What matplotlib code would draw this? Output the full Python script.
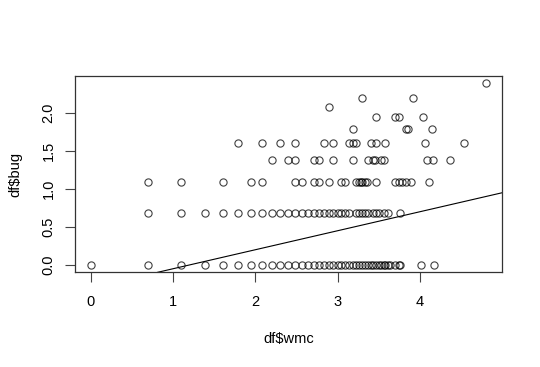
import matplotlib

matplotlib.use("Agg")
import matplotlib.pyplot as plt

plt.rcParams["font.family"] = ["Liberation Sans", "DejaVu Sans"]

# df$wmc values for each df$bug level (both already on log scale)
bug_levels = [0.00, 0.69, 1.10, 1.39, 1.61, 1.79, 1.95, 2.08, 2.20, 2.40]
wmc_by_level = [
    # bug = 0.00
    [0.00, 0.69, 1.10, 1.39, 1.61, 1.79, 1.95, 2.08, 2.20, 2.30, 2.40, 2.48,
     2.56, 2.64, 2.71, 2.77, 2.83, 2.89, 2.94, 3.00, 3.04, 3.09, 3.14, 3.18,
     3.22, 3.26, 3.30, 3.33, 3.37, 3.40, 3.43, 3.47, 3.50, 3.53, 3.56, 3.58,
     3.61, 3.64, 3.69, 3.74, 3.76, 4.01, 4.17],
    # bug = 0.69
    [0.69, 1.10, 1.39, 1.61, 1.79, 1.95, 2.08, 2.20, 2.30, 2.40, 2.48, 2.56,
     2.64, 2.71, 2.77, 2.83, 2.89, 2.94, 3.00, 3.04, 3.09, 3.14, 3.22, 3.26,
     3.30, 3.33, 3.37, 3.43, 3.47, 3.50, 3.56, 3.61, 3.76],
    # bug = 1.10
    [0.69, 1.10, 1.61, 1.95, 2.08, 2.48, 2.56, 2.71, 2.77, 2.89, 3.04, 3.09,
     3.22, 3.26, 3.28, 3.30, 3.33, 3.36, 3.47, 3.69, 3.74, 3.78, 3.83, 3.89,
     4.11],
    # bug = 1.39
    [2.20, 2.40, 2.48, 2.71, 2.77, 2.94, 3.18, 3.37, 3.43, 3.45, 3.53, 3.56,
     4.09, 4.16, 4.36],
    # bug = 1.61
    [1.79, 2.08, 2.30, 2.48, 2.83, 2.94, 3.14, 3.18, 3.22, 3.40, 3.47, 3.58,
     4.06, 4.53],
    # bug = 1.79
    [3.18, 3.83, 3.85, 4.14],
    # bug = 1.95
    [3.46, 3.69, 3.74, 4.04],
    # bug = 2.08
    [2.89],
    # bug = 2.20
    [3.30, 3.91],
    # bug = 2.40
    [4.80],
]

# abline from the fitted model
fit_intercept = -0.299
fit_slope = 0.2504

x_ticks = [0, 1, 2, 3, 4]
y_ticks = [0.0, 0.5, 1.0, 1.5, 2.0]

wmc = []
bug = []
for level, xs in zip(bug_levels, wmc_by_level):
    wmc += xs
    bug += [level] * len(xs)

fig = plt.figure(figsize=(5.4, 3.67), dpi=100)
ax = fig.add_axes([0.139, 0.258, 0.79, 0.536])

ax.plot(wmc, bug, linestyle="none", marker="o", markersize=5.2,
        markerfacecolor="none", markeredgecolor="black", markeredgewidth=0.8,
        alpha=0.75)

# R style 4% padding
xmin, xmax = min(wmc), max(wmc)
ymin, ymax = min(bug), max(bug)
xpad = (xmax - xmin) * 0.04
ypad = (ymax - ymin) * 0.04
ax.set_xlim(xmin - xpad, xmax + xpad)
ax.set_ylim(ymin - ypad, ymax + ypad)

ax.axline((0, fit_intercept), slope=fit_slope, color="black", linewidth=0.8)

ax.set_xticks(x_ticks)
ax.set_xticklabels([str(t) for t in x_ticks])
ax.set_yticks(y_ticks)
ax.set_yticklabels([f"{t:.1f}" for t in y_ticks], rotation=90, va="center")
ax.tick_params(axis="x", length=7, width=0.8, pad=9, labelsize=10.5, color="#444444")
ax.tick_params(axis="y", length=7, width=0.8, pad=7, labelsize=10.5, color="#444444")

for s in ax.spines.values():
    s.set_linewidth(0.9)
    s.set_color("#333333")

ax.set_xlabel("df$wmc", fontsize=10.5, labelpad=17)
ax.set_ylabel("df$bug", fontsize=10.5, labelpad=14)

fig.savefig("out.png", dpi=100)
